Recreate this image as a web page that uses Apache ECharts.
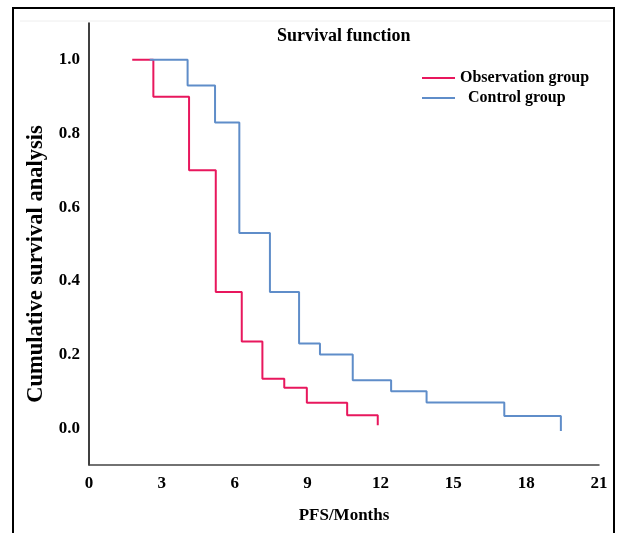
<!DOCTYPE html>
<html style="height: 100%">
<head>
<meta charset="utf-8">
</head>
<body style="width: 100%; height: 100%; margin:0; background:#fff;">
<div id="container" style="width: 618px; height: 533px"></div>
<script type="text/javascript" src="https://cdn.jsdelivr.net/npm/echarts@6/dist/echarts.min.js"></script>
<script type="text/javascript">
	// survival curves, [months, cumulative survival]
	var observationGroup = [
		[1.78, 1.0], [2.65, 0.9], [4.12, 0.7], [5.22, 0.37], [6.29, 0.235],
		[7.14, 0.134], [8.04, 0.11], [8.97, 0.069], [10.63, 0.035], [11.89, 0.008]
	];
	var controlGroup = [
		[2.5, 1.0], [4.06, 0.93], [5.19, 0.83], [6.19, 0.53], [7.45, 0.37],
		[8.65, 0.23], [9.51, 0.2], [10.86, 0.13], [12.44, 0.1], [13.9, 0.07],
		[17.1, 0.033], [19.43, -0.008]
	];
	var seriesNames = ['Observation group', 'Control group'];
	var xTicks = [0, 21, 3];

	var font = 'Liberation Serif';
	var dom = document.getElementById('container');
	var myChart = echarts.init(dom, null, { renderer: 'canvas' });

	var option = {
		animation: false,
		backgroundColor: '#fff',
		title: {
			text: 'Survival function',
			left: 277,
			top: 27,
			padding: 0,
			textStyle: {
				fontFamily: font,
				fontWeight: 'bold',
				fontSize: 18,
				color: '#000'
			}
		},
		legend: {
			orient: 'vertical',
			left: 422,
			top: 70,
			padding: 0,
			itemGap: 4,
			itemWidth: 33,
			itemHeight: 2,
			icon: 'rect',
			data: [
				{ name: seriesNames[0] },
				{ name: seriesNames[1], textStyle: { padding: [0, 0, 0, 8] } }
			],
			textStyle: {
				fontFamily: font,
				fontWeight: 'bold',
				fontSize: 16,
				lineHeight: 16,
				color: '#000'
			}
		},
		grid: {
			left: 89,
			right: 19,
			top: 23,
			bottom: 68
		},
		xAxis: {
			type: 'value',
			min: xTicks[0],
			max: xTicks[1],
			interval: xTicks[2],
			name: 'PFS/Months',
			nameLocation: 'middle',
			nameGap: 42,
			nameTextStyle: {
				fontFamily: font,
				fontWeight: 'bold',
				fontSize: 17,
				color: '#000'
			},
			axisLine: { onZero: false, lineStyle: { color: '#444', width: 1.5 } },
			axisTick: { show: false },
			splitLine: { show: false },
			axisLabel: {
				margin: 10,
				fontFamily: font,
				fontWeight: 'bold',
				fontSize: 17,
				color: '#000'
			}
		},
		yAxis: {
			type: 'value',
			min: -0.1,
			max: 1.1,
			interval: 0.1,
			name: 'Cumulative survival analysis',
			nameLocation: 'middle',
			nameGap: 40,
			nameTextStyle: {
				fontFamily: font,
				fontWeight: 'bold',
				fontSize: 22.5,
				color: '#000',
				padding: [0, 40, 0, 0]
			},
			axisLine: { show: true, onZero: false, lineStyle: { color: '#000', width: 1.5 } },
			axisTick: { show: false },
			splitLine: { show: false },
			axisLabel: {
				margin: 9,
				fontFamily: font,
				fontWeight: 'bold',
				fontSize: 17,
				color: '#000',
				formatter: function (v) {
					var k = Math.round(v * 10);
					if (k < 0 || k > 10 || k % 2 != 0) return '';
					return (k / 10).toFixed(1);
				}
			}
		},
		graphic: [
			{
				type: 'rect',
				shape: { x: 13, y: 8, width: 601, height: 540 },
				style: { fill: null, stroke: '#000', lineWidth: 2 },
				silent: true
			},
			{
				type: 'line',
				shape: { x1: 20, y1: 21, x2: 611, y2: 21 },
				style: { stroke: '#eeeeee', lineWidth: 1 },
				silent: true
			}
		],
		series: [
			{
				name: seriesNames[0],
				type: 'line',
				step: 'end',
				data: observationGroup,
				showSymbol: false,
				color: '#e8175d',
				lineStyle: { width: 2, color: '#e8175d' }
			},
			{
				name: seriesNames[1],
				type: 'line',
				step: 'end',
				data: controlGroup,
				showSymbol: false,
				color: '#5f8dc9',
				lineStyle: { width: 2, color: '#5f8dc9' }
			}
		]
	};
	myChart.setOption(option);
</script>
</body>
</html>
